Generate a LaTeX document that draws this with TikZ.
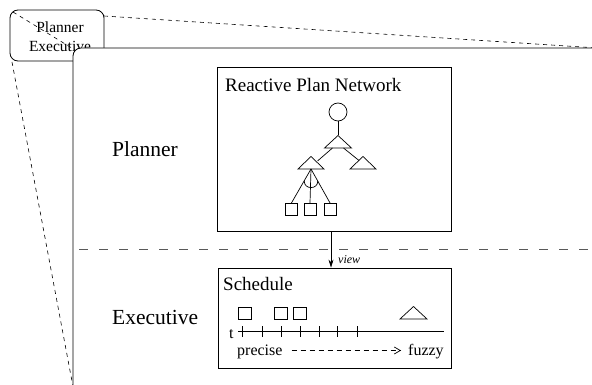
\documentclass[tikz,border=0pt]{standalone}
\usepackage{fontspec}
\setmainfont{Liberation Serif}
\usetikzlibrary{arrows.meta}
\tikzset{
  lbl/.style={inner sep=0pt, anchor=base west},
  frame/.style={draw, line width=0.8pt},
  guide/.style={draw, line width=0.6pt, dash pattern=on 4pt off 4pt},
  split/.style={draw=black!65, line width=0.9pt, dash pattern=on 9pt off 11pt},
  thin/.style={draw, line width=0.7pt},
  leaf/.style={draw, line width=0.7pt, inner sep=0pt, minimum width=12pt, minimum height=12.5pt},
}
\newcommand{\tri}[3]{% apex x, apex y, half base
  \draw[thin] (#1,#2) -- ++(-#3,12.5) -- ++(2*#3,0) -- cycle;}
\begin{document}
\begin{tikzpicture}[x=1pt,y=-1pt]
\useasboundingbox (0,0) rectangle (592,385);
\clip (0,0) rectangle (592,385);

% thumbnail of the whole view
\draw[frame, rounded corners=8pt] (10,10) rectangle (104,61);
\node[inner sep=0pt, align=center, font=\fontsize{15.5}{19}\selectfont] (thumb) at (60,37) {Planner\\Executive};

% guide lines from the thumbnail to the enlarged view
\coordinate (tl) at (13,12);
\coordinate (tr) at (104,16);
\coordinate (bl) at (12,62);
\coordinate (TL) at (75,50);
\coordinate (TR) at (605,48.5);
\coordinate (BL) at (74,392);
\draw[guide] (tl) -- (TL);
\draw[guide] (tr) -- (TR);
\draw[guide] (bl) -- (BL);

% enlarged view
\draw[frame, fill=white, rounded corners=8pt] (73,48) rectangle (620,420);

% layer boundary
\coordinate (sl) at (79,249);
\coordinate (sr) at (600,249);
\draw[split] (sl) -- (sr);

\node[lbl, font=\fontsize{21.5}{24}\selectfont] (planner) at (112,157) {Planner};
\node[lbl, font=\fontsize{21.5}{24}\selectfont] (executive) at (112,324) {Executive};

% reactive plan network
\node[frame, minimum width=234pt, minimum height=164pt, inner sep=0pt] (rpn) at (334,149) {};
\node[lbl, font=\fontsize{19}{22}\selectfont] (rpntitle) at (225,92) {Reactive Plan Network};

\node[circle, thin, minimum size=18pt, inner sep=0pt] (root) at (338,112) {};
\tri{338}{135.5}{13.5}
\tri{311}{156.5}{13}
\tri{363}{156.5}{13}
\coordinate (t1) at (338,135.5);
\coordinate (t1l) at (332.5,148);
\coordinate (t1r) at (343.5,148);
\coordinate (t2r) at (317.5,161);
\coordinate (t3l) at (359,160.5);
\coordinate (t2b) at (311,169);
\draw[thin] (root) -- (t1);
\draw[thin] (t1l) -- (t2r);
\draw[thin] (t1r) -- (t3l);

\node[leaf] (s1) at (291.5,209.5) {};
\node[leaf] (s2) at (310,209.5) {};
\node[leaf] (s3) at (330,209.5) {};
\draw[thin] (t2b) -- (s1.north);
\draw[thin] (t2b) -- (s2.north);
\draw[thin] (t2b) -- (s3.north);
\draw[thin] (304.2,181) .. controls (304.2,189.8) and (317.8,189.8) .. (317.8,181);

% schedule
\node[frame, minimum width=233pt, minimum height=100pt, inner sep=0pt] (sched) at (334.5,318) {};
\node[lbl, font=\fontsize{19}{22}\selectfont] (schedtitle) at (223,290) {Schedule};

\coordinate (vx) at (331,0);
\draw[thin, -{Stealth[length=8pt,width=5pt]}] (rpn.south -| vx) -- (sched.north -| vx);
\node[lbl, font=\itshape\fontsize{12}{14}\selectfont] (view) at (338,263) {view};

\node[leaf, minimum width=13pt, minimum height=12pt] (q1) at (244.5,313) {};
\node[leaf, minimum width=13pt, minimum height=12pt] (q2) at (280.5,313) {};
\node[leaf, minimum width=13pt, minimum height=12pt] (q3) at (299.5,313) {};
\tri{413.5}{306.5}{13.5}

\node[lbl, font=\fontsize{16}{18}\selectfont] (t) at (229,338) {t};
\coordinate (ax0) at (238,331);
\coordinate (ax1) at (444,331);
\draw[thin] (ax0) -- (ax1);
\foreach \x in {242,262,281,300,319,337,357}
  \draw[thin] (\x,326) -- (\x,337);

\node[lbl, font=\fontsize{16}{18}\selectfont] (precise) at (237,355) {precise};
\node[lbl, font=\fontsize{16}{18}\selectfont] (fuzzy) at (408,355) {fuzzy};
\draw[thin, dash pattern=on 5pt off 4pt, -{Straight Barb[length=6pt,width=7pt]}]
  ([xshift=9pt,yshift=4.5pt]precise.base east) -- ([xshift=-7pt,yshift=4.5pt]fuzzy.base west);
\end{tikzpicture}
\end{document}
